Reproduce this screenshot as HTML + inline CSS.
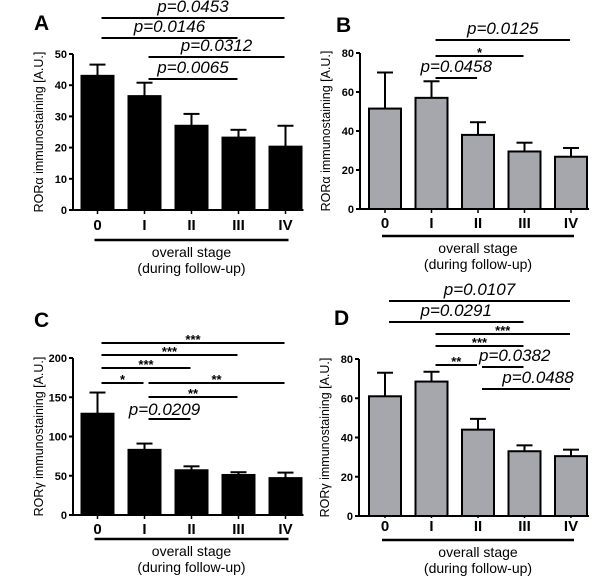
<!DOCTYPE html>
<html><head><meta charset="utf-8"><style>
body{margin:0;background:#fff;}
svg{display:block;font-family:"Liberation Sans",Arial,sans-serif;}
</style></head><body>
<svg id="fig" width="600" height="584" viewBox="0 0 600 584"></svg>
<script>
const categories = ["0","I","II","III","IV"];
const valuesA = [43, 36.5, 27, 23.2, 20.3];
const errorsA = [3.6, 4.3, 3.8, 2.5, 6.7];
const valuesB = [51.5, 57, 38, 29.5, 26.8];
const errorsB = [18.5, 8.5, 6.5, 4.5, 4.5];
const valuesC = [129, 83, 57, 51, 47];
const errorsC = [27, 8, 5, 3.5, 7];
const valuesD = [61, 68.5, 44, 33, 30.5];
const errorsD = [12, 5, 5.5, 3, 3.3];
const ticksA = [0,10,20,30,40,50];
const ticksB = [0,20,40,60,80];
const ticksC = [0,50,100,150,200];
const ticksD = [0,20,40,60,80];
// significance annotations: [fromIndex, toIndex, label]
const sigA = [["0","IV","p=0.0453"],["0","III","p=0.0146"],["I","IV","p=0.0312"],["I","III","p=0.0065"]];
const sigB = [["I","IV","p=0.0125"],["I","III","*"],["I","II","p=0.0458"]];
const sigC = [["0","IV","***"],["0","III","***"],["0","II","***"],["0","I","*"],["I","IV","**"],["I","III","**"],["I","II","p=0.0209"]];
const sigD = [["0","IV","p=0.0107"],["0","III","p=0.0291"],["I","IV","***"],["I","III","***"],["I","II","**"],["II","III","p=0.0382"],["II","IV","p=0.0488"]];

const NS="http://www.w3.org/2000/svg";
const svg=document.getElementById('fig');
function el(tag,attrs,parent,text){const e=document.createElementNS(NS,tag);for(const k in attrs)e.setAttribute(k,attrs[k]);if(text!==undefined)e.textContent=text;(parent||svg).appendChild(e);return e;}

const panels=[
 {id:'a',letter:'A',ax:73,x0:97.5,step:47,y0:210,ymax:50,yTop:54,vals:valuesA,errs:errorsA,ticks:ticksA,fill:'#000',title:'ROR\u03b1 immunostaining [A.U.]',sig:sigA,
  sigY:[18,38,57,79],stageY:240,lx:34,ly:30,tl:20,tk:4},
 {id:'b',letter:'B',ax:360,x0:385,step:46.5,y0:209,ymax:80,yTop:53,vals:valuesB,errs:errorsB,ticks:ticksB,fill:'#a6a6ad',title:'ROR\u03b1 immunostaining [A.U.]',sig:sigB,
  sigY:[40,56,78],stageY:236,lx:336,ly:32,tl:19,tk:4},
 {id:'c',letter:'C',ax:73,x0:97.5,step:47,y0:515,ymax:200,yTop:358,vals:valuesC,errs:errorsC,ticks:ticksC,fill:'#000',title:'ROR\u03b3 immunostaining [A.U.]',sig:sigC,
  sigY:[343,355,368,383,383,397,419],stageY:539,lx:34,ly:327,tl:19,tk:4},
 {id:'d',letter:'D',ax:359,x0:385,step:46.5,y0:516,ymax:80,yTop:359,vals:valuesD,errs:errorsD,ticks:ticksD,fill:'#a6a6ad',title:'ROR\u03b3 immunostaining [A.U.]',sig:sigD,
  sigY:[301,322,334,346,365,367,389],stageY:540,lx:334,ly:325,tl:15,tk:2}
];

panels.forEach(p=>{
 const g=el('g',{});
 
 
 const ys=v=>p.y0-(v/p.ymax)*(p.y0-p.yTop);
 const xs=i=>p.x0+i*p.step;
 const xc=c=>xs(categories.indexOf(c));
 const L=el('text',{x:p.lx,y:p.ly,'font-size':21,'font-weight':'bold'},g,p.letter);
 
 
 p.vals.forEach((v,i)=>{
  const e=p.errs[i];
  const eb=el('g',{},g);
  
  
  el('line',{x1:xs(i),x2:xs(i),y1:ys(v),y2:ys(v+e),stroke:'#000','stroke-width':2},eb);
  el('line',{x1:xs(i)-8,x2:xs(i)+8,y1:ys(v+e),y2:ys(v+e),stroke:'#000','stroke-width':2},eb);
  const r=el('rect',{x:xs(i)-16,y:ys(v),width:32,height:p.y0-ys(v),fill:p.fill,stroke:'#000','stroke-width':2},g);
  
  
  const t=el('text',{x:xs(i),y:p.y0+p.tl,'font-size':15,'font-weight':'bold','text-anchor':'middle'},g,categories[i]);
  
  
  el('line',{x1:xs(i),x2:xs(i),y1:p.y0,y2:p.y0+p.tk,stroke:'#000','stroke-width':1.5},g);
 });
 const ax=el('path',{d:`M${p.ax},${p.yTop} V${p.y0} H${xs(4)+18}`,fill:'none',stroke:'#000','stroke-width':2},g);
 
 
 p.ticks.forEach(t=>{
  el('line',{x1:p.ax-4,x2:p.ax,y1:ys(t),y2:ys(t),stroke:'#000','stroke-width':2},g);
  const tl=el('text',{x:p.ax-6,y:ys(t)+4,'font-size':11,'font-weight':'bold','text-anchor':'end'},g,String(t));
  
  
 });
 const cy=(p.y0+p.yTop)/2;
 const yt=el('text',{x:0,y:0,'font-size':12.5,'text-anchor':'middle',transform:`translate(${p.ax-30},${cy}) rotate(-90)`},g,p.title);
 
 
 const sl=el('line',{x1:xs(0)-3,x2:xs(4)+3,y1:p.stageY,y2:p.stageY,stroke:'#000','stroke-width':2.5},g);
 
 
 const mx=(xs(0)+xs(4))/2;
 const x1=el('text',{x:mx,y:p.stageY+17,'font-size':14,'text-anchor':'middle'},g,'overall stage');
 
 
 const x2=el('text',{x:mx,y:p.stageY+33,'font-size':14,'text-anchor':'middle'},g,'(during follow-up)');
 
 
 p.sig.forEach((s,k)=>{
  const y=p.sigY[k];
  const a=xc(s[0])+4, b=xc(s[1])-1;
  const sg=el('g',{},g);
  
  
  el('line',{x1:a,x2:b,y1:y,y2:y,stroke:'#000','stroke-width':2},sg);
  const isP=s[2].startsWith('p');
  if(isP){
   el('text',{x:(a+b)/2+(s[2]==='p=0.0209'?-5:(p.id==='d'&&k>=5?12:0)),y:(s[2]==='p=0.0209'?y-4:y-6),'font-size':17,'font-style':'italic','text-anchor':'middle'},sg,s[2]);
  } else {
   el('text',{x:(a+b)/2,y:y+1,'font-size':13,'font-weight':'bold','text-anchor':'middle'},sg,s[2]);
  }
 });
});
</script>
</body></html>
